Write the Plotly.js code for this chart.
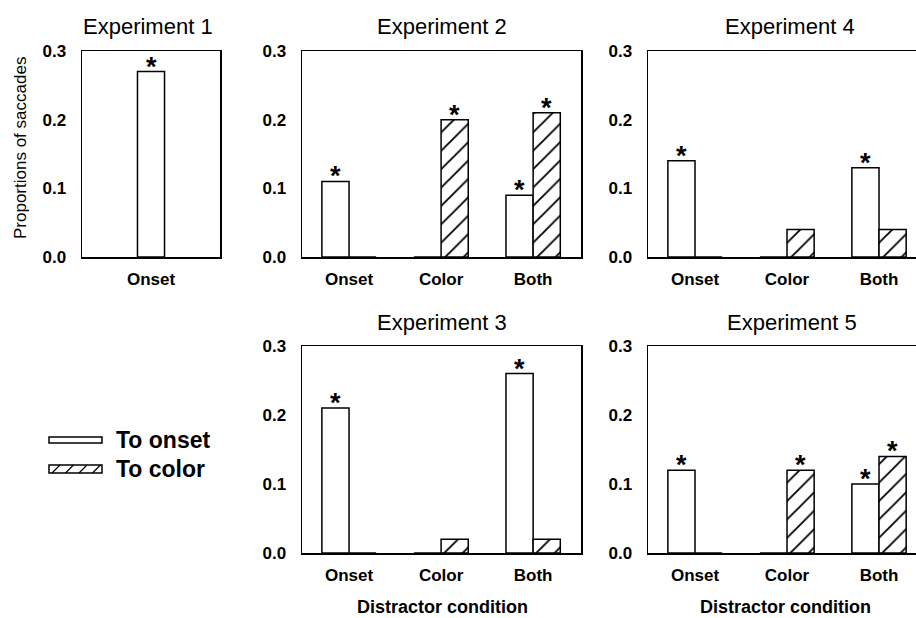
<!DOCTYPE html>
<html>
<head>
<meta charset="utf-8">
<script src="https://cdn.plot.ly/plotly-3.0.1.min.js"></script>
<style>html,body{margin:0;padding:0;background:#fff;}#chart{width:916px;height:618px;}</style>
</head>
<body>
<div id="chart"></div>
<script>
// ---- data ----
const categories = ['Onset', 'Color', 'Both'];
const exp1Categories = ['Onset'];
const exp1Onset = [0.27];
const exp1OnsetSig = [1];
const exp2Onset = [0.11, 0, 0.09];
const exp2Color = [0, 0.20, 0.21];
const exp2OnsetSig = [1, 0, 1];
const exp2ColorSig = [0, 1, 1];
const exp3Onset = [0.21, 0, 0.26];
const exp3Color = [0, 0.02, 0.02];
const exp3OnsetSig = [1, 0, 1];
const exp3ColorSig = [0, 0, 0];
const exp4Onset = [0.14, 0, 0.13];
const exp4Color = [0, 0.04, 0.04];
const exp4OnsetSig = [1, 0, 1];
const exp4ColorSig = [0, 0, 0];
const exp5Onset = [0.12, 0, 0.10];
const exp5Color = [0, 0.12, 0.14];
const exp5OnsetSig = [1, 0, 1];
const exp5ColorSig = [0, 1, 1];
const yTicks = [0, 0.1, 0.2, 0.3];
const yTickText = ['0.0', '0.1', '0.2', '0.3'];
const seriesNames = ['To onset', 'To color'];
const panelTitles = ['Experiment 1', 'Experiment 2', 'Experiment 4', 'Experiment 3', 'Experiment 5'];
const xTitle = 'Distractor condition';
const yTitle = 'Proportions of saccades';

// ---- layout helpers ----
const W = 916, H = 618;
const FONT = 'Liberation Sans, Arial, Helvetica, sans-serif';
const px = x => x / W;
const py = y => 1 - y / H;
const BW = 0.295;

const onsetMarker = {color: 'white', line: {color: 'black', width: 1.5}};
const colorMarker = {color: 'white', line: {color: 'black', width: 1.5},
  pattern: {shape: '/', size: 13, solidity: 0.14, fgcolor: 'black', bgcolor: 'white', fillmode: 'replace'}};

const traces = [];
const annotations = [];

function addStars(xa, ya, cats, vals, sig, xoff) {
  cats.forEach((c, i) => {
    if (sig[i]) {
      annotations.push({xref: xa, yref: ya, x: i + xoff, y: vals[i], text: '*',
        showarrow: false, yanchor: 'bottom', yshift: -12,
        font: {family: FONT, size: 27, weight: 'bold', color: 'black'}});
    }
  });
}

// Experiment 1
traces.push({type: 'bar', x: exp1Categories, y: exp1Onset, xaxis: 'x', yaxis: 'y',
  width: 0.196, offset: -0.098, marker: onsetMarker, name: seriesNames[0], showlegend: false, hoverinfo: 'none'});
addStars('x', 'y', exp1Categories, exp1Onset, exp1OnsetSig, 0);

const panels = [
  {ax: '2', on: exp2Onset, co: exp2Color, onS: exp2OnsetSig, coS: exp2ColorSig},
  {ax: '3', on: exp4Onset, co: exp4Color, onS: exp4OnsetSig, coS: exp4ColorSig},
  {ax: '4', on: exp3Onset, co: exp3Color, onS: exp3OnsetSig, coS: exp3ColorSig},
  {ax: '5', on: exp5Onset, co: exp5Color, onS: exp5OnsetSig, coS: exp5ColorSig}
];
panels.forEach(p => {
  traces.push({type: 'bar', x: categories, y: p.on, xaxis: 'x' + p.ax, yaxis: 'y' + p.ax,
    width: BW, offset: -BW, marker: onsetMarker, name: seriesNames[0], showlegend: false, hoverinfo: 'none'});
  traces.push({type: 'bar', x: categories, y: p.co, xaxis: 'x' + p.ax, yaxis: 'y' + p.ax,
    width: BW, offset: 0, marker: colorMarker, name: seriesNames[1], showlegend: false, hoverinfo: 'none'});
  addStars('x' + p.ax, 'y' + p.ax, categories, p.on, p.onS, -BW / 2);
  addStars('x' + p.ax, 'y' + p.ax, categories, p.co, p.coS, BW / 2);
});

function xAxis(domain, range, anchor, mirror) {
  return {domain: domain, range: range, anchor: anchor, type: 'category', showgrid: false, zeroline: false,
    showline: true, linecolor: 'black', linewidth: 1.5, mirror: mirror, ticks: '', ticklabelstandoff: 6,
    tickfont: {family: FONT, size: 17, weight: 'bold', color: 'black'}, fixedrange: true};
}
function yAxis(domain, anchor, mirror) {
  return {domain: domain, range: [0, 0.3], anchor: anchor, showgrid: false, zeroline: false,
    showline: true, linecolor: 'black', linewidth: 1.5, mirror: mirror, ticks: '',
    tickvals: yTicks, ticktext: yTickText, ticklabelstandoff: 11,
    tickfont: {family: FONT, size: 17, weight: 'bold', color: 'black'}, fixedrange: true};
}

const topY = [py(257), py(51)];
const botY = [py(553), py(346)];
const rightRange = [-0.511, 2.402];

const layout = {
  width: W, height: H, margin: {l: 0, r: 0, t: 0, b: 0},
  paper_bgcolor: 'white', plot_bgcolor: 'white', showlegend: false, barmode: 'overlay',
  xaxis: xAxis([px(82), px(220)], [-0.5, 0.5], 'y', true),
  yaxis: yAxis(topY, 'x', true),
  xaxis2: xAxis([px(302), px(581)], [-0.511, 2.52], 'y2', true),
  yaxis2: yAxis(topY, 'x2', true),
  xaxis3: xAxis([px(648), 1], rightRange, 'y3', true),
  yaxis3: yAxis(topY, 'x3', false),
  xaxis4: xAxis([px(302), px(581)], [-0.511, 2.52], 'y4', true),
  yaxis4: yAxis(botY, 'x4', true),
  xaxis5: xAxis([px(648), 1], rightRange, 'y5', true),
  yaxis5: yAxis(botY, 'x5', false),
  annotations: annotations,
  shapes: []
};

// panel titles
const titlePos = [[148, 26], [442, 26], [790, 26], [442, 323], [792, 323]];
panelTitles.forEach((t, i) => {
  annotations.push({xref: 'paper', yref: 'paper', x: px(titlePos[i][0]), y: py(titlePos[i][1]), text: t,
    showarrow: false, xanchor: 'center', yanchor: 'middle', font: {family: FONT, size: 22, color: 'black'}});
});
// axis titles
[[442, 607], [785, 607]].forEach(p => {
  annotations.push({xref: 'paper', yref: 'paper', x: px(p[0]), y: py(p[1]), text: xTitle, showarrow: false,
    xanchor: 'center', yanchor: 'middle', font: {family: FONT, size: 18, weight: 'bold', color: 'black'}});
});
annotations.push({xref: 'paper', yref: 'paper', x: px(20), y: py(148), text: yTitle, showarrow: false,
  textangle: -90, xanchor: 'center', yanchor: 'middle', font: {family: FONT, size: 17, color: 'black'}});

// legend (drawn)
layout.shapes.push({type: 'rect', xref: 'paper', yref: 'paper', x0: px(49), x1: px(102), y0: py(443), y1: py(437),
  line: {color: 'black', width: 1.5}, fillcolor: 'white'});
layout.shapes.push({type: 'rect', xref: 'paper', yref: 'paper', x0: px(49), x1: px(102), y0: py(473), y1: py(465),
  line: {color: 'black', width: 1.5}, fillcolor: 'white'});
let hp = '';
[52, 65.5, 79, 92.5].forEach(x0 => {
  hp += 'M' + px(x0) + ',' + py(473) + ' L' + px(x0 + 8) + ',' + py(465) + ' ';
});
layout.shapes.push({type: 'path', xref: 'paper', yref: 'paper', path: hp, line: {color: 'black', width: 1.2}});
[[seriesNames[0], 440], [seriesNames[1], 469]].forEach(s => {
  annotations.push({xref: 'paper', yref: 'paper', x: px(114), y: py(s[1]), text: s[0], showarrow: false,
    xanchor: 'left', yanchor: 'middle', font: {family: FONT, size: 23, weight: 'bold', color: 'black'}});
});

Plotly.newPlot('chart', traces, layout, {staticPlot: true, displayModeBar: false});
</script>
</body>
</html>
